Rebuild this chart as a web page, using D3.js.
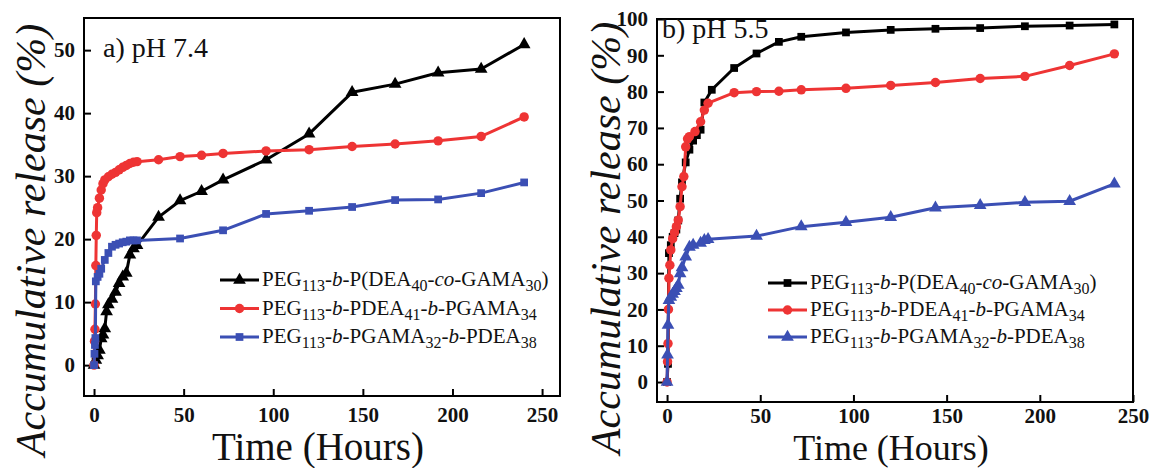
<!DOCTYPE html>
<html lang="en">
<head>
    <meta charset="UTF-8">
    <title>Accumulative release</title>
    <script src="https://d3js.org/d3.v7.min.js"></script>
    <style>
        body {
            margin: 0;
            background-color: #ffffff;
        }

        svg {
            display: block;
        }

        .frame {
            fill: none;
            stroke: #000;
            stroke-width: 2;
        }

        .axis text {
            font-family: 'Liberation Serif', 'Times New Roman', serif;
            font-weight: bold;
            font-size: 21px;
            fill: #111;
        }

        .axis line {
            stroke: #000;
            stroke-width: 2;
        }

        .title {
            font-family: 'Liberation Serif', 'Times New Roman', serif;
            fill: #111;
        }

        .line {
            fill: none;
            stroke-width: 3;
            stroke-linejoin: round;
        }
    </style>
</head>
<body>

<svg id="chart" width="1150" height="468"></svg>

<script>
    // tick labels
    var xTicks = [0, 50, 100, 150, 200, 250];
    var yTicksA = [0, 10, 20, 30, 40, 50];
    var yTicksB = [0, 10, 20, 30, 40, 50, 60, 70, 80, 90, 100];

    // a) pH 7.4
    var aBlackT = [0, 1, 2, 3, 4, 5, 6, 7, 8, 10, 12, 14, 16, 18, 20, 22, 24, 36, 48, 60, 72, 96, 120, 144, 168, 192, 216, 240];
    var aBlackV = [0, 0.8, 1.5, 2.4, 4.2, 4.8, 5.8, 8.5, 9.6, 10.5, 11.6, 13, 14, 14.6, 17.5, 18.5, 19, 23.5, 26.1, 27.6, 29.4, 32.6, 36.7, 43.3, 44.6, 46.4, 47, 50.9];

    var aRedT = [0, 0.25, 0.5, 0.75, 1, 1.25, 1.5, 2, 3, 4, 5, 6, 8, 10, 12, 14, 16, 18, 20, 22, 24, 36, 48, 60, 72, 96, 120, 144, 168, 192, 216, 240];
    var aRedV = [0, 3.8, 5.7, 9.7, 15.8, 20.6, 24.2, 25, 26.5, 27.8, 28.8, 29.4, 29.9, 30.3, 30.6, 31, 31.4, 31.7, 32, 32.2, 32.3, 32.6, 33.1, 33.3, 33.6, 34, 34.2, 34.7, 35.1, 35.6, 36.3, 39.4];

    var aBlueT = [0, 0.25, 0.5, 0.75, 1, 2, 3, 4, 6, 8, 10, 12, 14, 16, 18, 20, 22, 24, 48, 72, 96, 120, 144, 168, 192, 216, 240];
    var aBlueV = [0, 1.8, 3.2, 4.3, 13.3, 14, 14.5, 15.3, 16.7, 17.8, 18.8, 19.1, 19.3, 19.5, 19.6, 19.8, 19.8, 19.8, 20.1, 21.4, 24, 24.5, 25.1, 26.2, 26.3, 27.3, 29];

    // b) pH 5.5
    var bBlackT = [0, 0.5, 1, 2, 3, 4, 5, 6, 7, 8, 10, 12, 14, 16, 18, 20, 24, 36, 48, 60, 72, 96, 120, 144, 168, 192, 216, 240];
    var bBlackV = [0, 5, 35.5, 37.7, 40, 41, 42, 44.5, 50.5, 55, 60.5, 64, 66.5, 68, 69.5, 77, 80.5, 86.5, 90.5, 93.7, 95.1, 96.3, 97, 97.3, 97.5, 98, 98.2, 98.5];

    var bRedT = [0, 0.25, 0.5, 0.75, 1, 1.5, 2, 3, 4, 5, 6, 7, 8, 9, 10, 11, 12, 15, 18, 20, 22, 36, 48, 60, 72, 96, 120, 144, 168, 192, 216, 240];
    var bRedV = [0, 5.6, 10.6, 20, 28.6, 32.2, 36.4, 39.5, 41.2, 42.8, 44.6, 48.3, 53.8, 56.6, 64.8, 67, 67.6, 69, 71.7, 74.9, 76.8, 79.7, 80, 80.1, 80.5, 80.9, 81.7, 82.5, 83.6, 84.2, 87.2, 90.4];

    var bBlueT = [0, 0.25, 0.5, 1, 2, 3, 4, 5, 6, 7, 8, 10, 12, 14, 18, 20, 22, 48, 72, 96, 120, 144, 168, 192, 216, 240];
    var bBlueV = [0, 7.5, 15.7, 22.5, 23.4, 24.2, 25, 25.8, 26.7, 29.9, 31.5, 34.5, 37.2, 37.7, 38.3, 39, 39.3, 40.2, 42.8, 44, 45.4, 48, 48.7, 49.5, 49.8, 54.6];

    // legend labels: [text, style]  style: "" normal, "sub" subscript, "i" italic
    var legendBlack = [["PEG", ""], ["113", "sub"], ["-", ""], ["b", "i"], ["-P(DEA", ""], ["40", "sub"], ["-", ""], ["co", "i"], ["-GAMA", ""], ["30", "sub"], [")", ""]];
    var legendRed = [["PEG", ""], ["113", "sub"], ["-", ""], ["b", "i"], ["-PDEA", ""], ["41", "sub"], ["-", ""], ["b", "i"], ["-PGAMA", ""], ["34", "sub"]];
    var legendBlue = [["PEG", ""], ["113", "sub"], ["-", ""], ["b", "i"], ["-PGAMA", ""], ["32", "sub"], ["-", ""], ["b", "i"], ["-PDEA", ""], ["38", "sub"]];

    var BLACK = "#000000", RED = "#ee3434", BLUE = "#3b4fb4";

    function zip(t, v) {
        return t.map(function (d, i) { return { t: d, v: v[i] }; });
    }

    var svg = d3.select("#chart");

    function drawPanel(p) {
        var x = d3.scaleLinear().domain(p.xDomain).range([p.left, p.right]);
        var y = d3.scaleLinear().domain(p.yDomain).range([p.bottom, p.top]);
        var g = svg.append("g");

        // axes with inward ticks
        g.append("g")
            .attr("class", "axis")
            .attr("transform", "translate(0," + p.bottom + ")")
            .call(d3.axisBottom(x).tickValues(xTicks).tickSizeInner(-7).tickSizeOuter(0).tickPadding(p.xPad))
            .call(function (a) { a.select(".domain").remove(); });

        g.append("g")
            .attr("class", "axis")
            .attr("transform", "translate(" + p.left + ",0)")
            .call(d3.axisLeft(y).tickValues(p.yTicks).tickSizeInner(-7).tickSizeOuter(0).tickPadding(9))
            .call(function (a) { a.select(".domain").remove(); });

        g.append("rect")
            .attr("class", "frame")
            .attr("x", p.left).attr("y", p.top)
            .attr("width", p.right - p.left).attr("height", p.bottom - p.top);

        var line = d3.line().x(function (d) { return x(d.t); }).y(function (d) { return y(d.v); });

        p.series.forEach(function (s) {
            var data = zip(s.t, s.v);
            g.append("path")
                .datum(data)
                .attr("class", "line")
                .attr("stroke", s.color)
                .attr("d", line);

            g.selectAll(null)
                .data(data)
                .enter().append("path")
                .attr("transform", function (d) { return "translate(" + x(d.t) + "," + y(d.v) + ")"; })
                .attr("d", d3.symbol().type(s.symbol).size(s.size))
                .attr("fill", s.color);
        });

        // legend
        p.series.forEach(function (s, i) {
            var ly = p.legendY + i * p.legendGap;
            g.append("line")
                .attr("x1", p.legendX).attr("x2", p.legendX + 39)
                .attr("y1", ly).attr("y2", ly)
                .attr("stroke", s.color).attr("stroke-width", 3);
            g.append("path")
                .attr("transform", "translate(" + (p.legendX + 19.5) + "," + ly + ")")
                .attr("d", d3.symbol().type(s.symbol).size(s.size))
                .attr("fill", s.color);

            var txt = g.append("text")
                .attr("class", "title")
                .attr("x", p.legendX + 42)
                .attr("y", ly + 6)
                .attr("font-size", 21);
            var shifted = false;
            s.label.forEach(function (part) {
                var ts = txt.append("tspan").text(part[0]);
                if (part[1] === "sub") {
                    ts.attr("font-size", 16).attr("dy", 5);
                    shifted = true;
                } else {
                    if (shifted) { ts.attr("dy", -5); shifted = false; }
                    if (part[1] === "i") ts.attr("font-style", "italic");
                }
            });
        });

        // panel label
        g.append("text")
            .attr("class", "title")
            .attr("x", p.labelX).attr("y", p.labelY)
            .attr("font-size", 28)
            .text(p.label);

        // axis titles
        g.append("text")
            .attr("class", "title")
            .attr("x", p.xTitleX).attr("y", p.xTitleY)
            .attr("text-anchor", "middle")
            .attr("font-size", p.xTitleSize)
            .text("Time (Hours)");

        g.append("text")
            .attr("class", "title")
            .attr("transform", "translate(" + p.yTitleX + "," + p.yTitleY + ") rotate(-90)")
            .attr("text-anchor", "middle")
            .attr("font-size", 42)
            .attr("font-style", "italic")
            .text("Accumulative release (%)");
    }

    drawPanel({
        left: 84, right: 560, top: 18, bottom: 396,
        xDomain: [-5.6, 260], yDomain: [-4.9, 55.1], yTicks: yTicksA, xPad: 11,
        legendX: 220, legendY: 280, legendGap: 28.5,
        label: "a) pH 7.4", labelX: 103, labelY: 57,
        xTitleX: 318, xTitleY: 460, xTitleSize: 39, yTitleX: 45, yTitleY: 240,
        series: [
            { t: aBlackT, v: aBlackV, color: BLACK, symbol: d3.symbolTriangle, size: 70, label: legendBlack },
            { t: aRedT, v: aRedV, color: RED, symbol: d3.symbolCircle, size: 70, label: legendRed },
            { t: aBlueT, v: aBlueV, color: BLUE, symbol: d3.symbolSquare, size: 60, label: legendBlue }
        ]
    });

    drawPanel({
        left: 657, right: 1133, top: 19, bottom: 402,
        xDomain: [-5.4, 250], yDomain: [-5.5, 100], yTicks: yTicksB, xPad: 6,
        legendX: 768, legendY: 283, legendGap: 27,
        label: "b) pH 5.5", labelX: 662, labelY: 38,
        xTitleX: 891, xTitleY: 460, xTitleSize: 36, yTitleX: 620, yTitleY: 238,
        series: [
            { t: bBlackT, v: bBlackV, color: BLACK, symbol: d3.symbolSquare, size: 60, label: legendBlack },
            { t: bRedT, v: bRedV, color: RED, symbol: d3.symbolCircle, size: 70, label: legendRed },
            { t: bBlueT, v: bBlueV, color: BLUE, symbol: d3.symbolTriangle, size: 70, label: legendBlue }
        ]
    });
</script>

</body>
</html>
